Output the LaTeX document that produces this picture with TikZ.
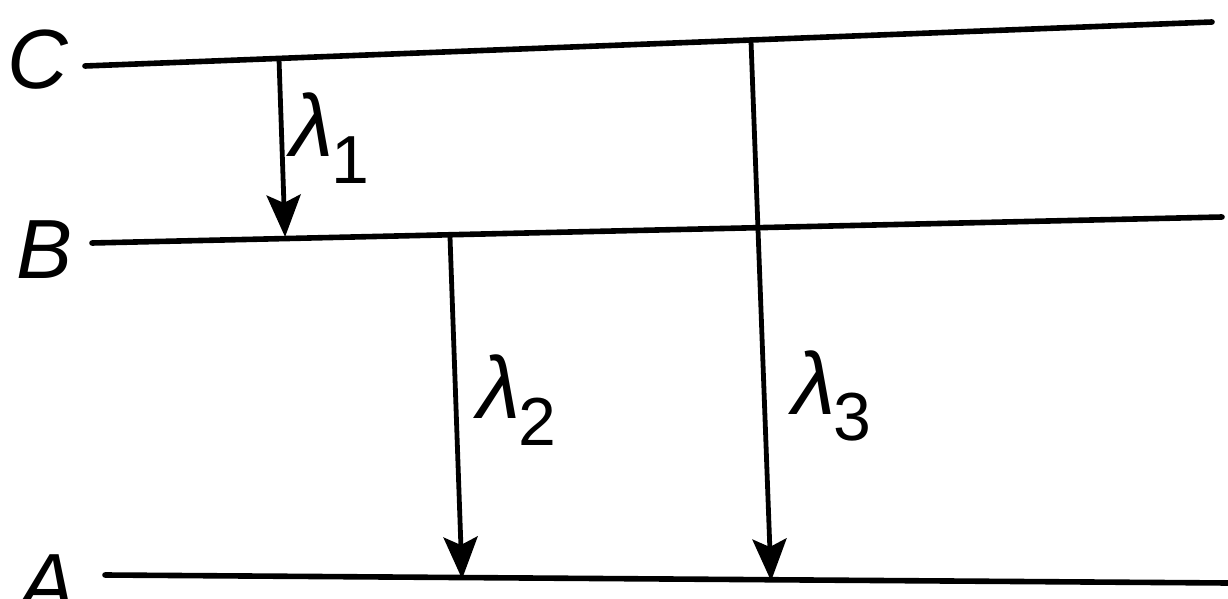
\documentclass[tikz,border=0pt]{standalone}
\usepackage{fontspec}
\setmainfont{Liberation Sans}
\usetikzlibrary{arrows.meta, calc}
\newcommand{\wl}[1]{\textit{λ}\kern-0.02em\raisebox{-0.3em}{\fontsize{34}{34}\selectfont #1}}
\tikzset{
  level/.style={
    line width=2.8pt,
    line cap=round
  },
  trans/.style={
    -{Stealth[length=21pt, width=17pt, inset=4pt]},
    line width=2.4pt,
    shorten >=-1pt
  },
  levelname/.style={
    font=\fontsize{42}{46}\selectfont\itshape,
    inner sep=0pt
  },
  wlname/.style={
    font=\fontsize{44}{48}\selectfont,
    inner sep=0pt
  }
}
\begin{document}
\begin{tikzpicture}[x=0.5pt, y=-0.5pt]
\useasboundingbox (0,0) rectangle (1228,599);

% Niveaux
\coordinate (C-l) at (85,66);
\coordinate (C-r) at (1212,22);
\coordinate (B-l) at (92,243);
\coordinate (B-r) at (1222,217);
\coordinate (A-l) at (105,575);
\coordinate (A-r) at (1228,583);
\draw[level] (C-l) -- (C-r);
\draw[level] (B-l) -- (B-r);
\draw[level] (A-l) -- (A-r);

\node[levelname] (C) at (38,60) {C};
\node[levelname] (B) at (45,250) {B};
\node[levelname] (A) at (48,584) {A};

% Transitions
\coordinate (t1-s) at (279,59);
\coordinate (t1-e) at (285,235);
\coordinate (t2-s) at (450,237);
\coordinate (t2-e) at (462,577);
\coordinate (t3-s) at (751,41);
\coordinate (t3-e) at (771,579);
\draw[trans] (t1-s) -- (t1-e);
\draw[trans] (t2-s) -- (t2-e);
\draw[trans] (t3-s) -- (t3-e);

\node[wlname] (l1) at (330,138) {\wl{1}};
\node[wlname] (l2) at (517,400) {\wl{2}};
\node[wlname] (l3) at (832,396) {\wl{3}};
\end{tikzpicture}
\end{document}
